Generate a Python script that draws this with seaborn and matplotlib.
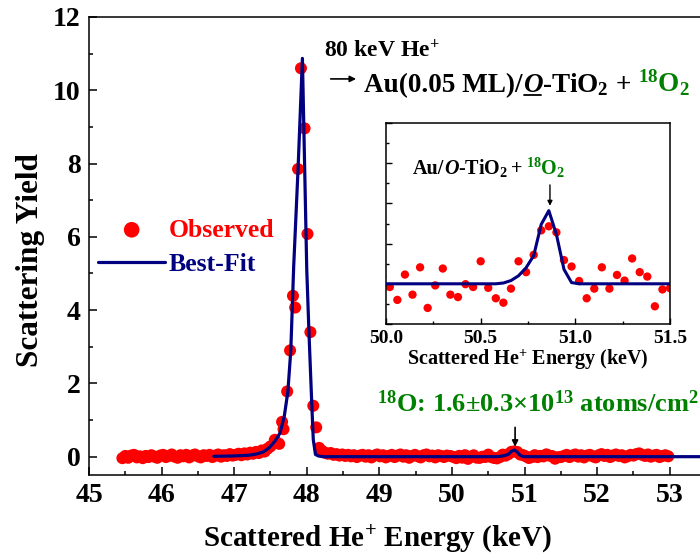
import matplotlib
matplotlib.use("Agg")
import matplotlib.pyplot as plt
import seaborn as sns
import pandas as pd
from matplotlib.lines import Line2D
from matplotlib.ticker import MultipleLocator, FormatStrFormatter

# Observed spectrum in segments
left_energy = [45.46, 45.50, 45.54, 45.58, 45.62, 45.66, 45.70, 45.74, 45.78, 45.82,
               45.86, 45.90, 45.94, 45.98, 46.02, 46.06, 46.10, 46.14, 46.18, 46.22,
               46.26, 46.30, 46.34, 46.38, 46.42, 46.46, 46.50, 46.54, 46.58, 46.62,
               46.66, 46.70, 46.74, 46.78, 46.82, 46.86, 46.90, 46.94, 46.98, 47.02,
               47.06, 47.10, 47.14, 47.18, 47.22, 47.26, 47.30, 47.34, 47.38, 47.42,
               47.46]
left_yield = [-0.04, 0.02, -0.03, 0.03, 0.05, -0.02, 0.01, -0.04, 0.02, -0.01,
              0.04, 0.00, -0.03, 0.03, 0.05, -0.01, 0.02, 0.06, 0.00, -0.03,
              0.04, 0.01, 0.05, -0.02, 0.03, 0.06, 0.01, -0.02, 0.04, 0.02,
              0.05, -0.01, 0.03, 0.06, 0.00, 0.04, 0.02, 0.07, 0.03, 0.05,
              0.08, 0.04, 0.09, 0.06, 0.11, 0.08, 0.13, 0.10, 0.17, 0.14,
              0.22]

peak_energy = [47.50, 47.56, 47.62, 47.66, 47.68, 47.73, 47.77, 47.81, 47.84, 47.88,
               47.92, 47.97, 48.01, 48.05, 48.09, 48.13]
peak_yield = [0.28, 0.46, 0.35, 0.95, 0.75, 1.78, 2.90, 4.39, 4.07, 7.85,
              10.60, 8.96, 6.08, 3.40, 1.39, 0.80]

mid_energy = [48.17, 48.21, 48.25, 48.29, 48.33, 48.37, 48.41, 48.45, 48.49, 48.53,
              48.57, 48.61, 48.65, 48.69, 48.73, 48.77, 48.81, 48.85, 48.89, 48.93,
              48.97, 49.01, 49.05, 49.09, 49.13, 49.17, 49.21, 49.25, 49.29, 49.33,
              49.37, 49.41, 49.45, 49.49, 49.53, 49.57, 49.61, 49.65, 49.69, 49.73,
              49.77, 49.81, 49.85, 49.89, 49.93]
mid_yield = [0.24, 0.16, 0.11, 0.08, 0.10, 0.05, 0.07, 0.03, 0.06, 0.02,
             0.05, 0.01, 0.04, -0.01, 0.03, 0.05, 0.00, 0.04, -0.02, 0.03,
             0.06, 0.01, 0.04, -0.02, 0.02, 0.05, -0.01, 0.03, 0.06, 0.00,
             0.04, -0.03, 0.02, 0.05, 0.01, -0.02, 0.04, 0.06, 0.01, 0.03,
             -0.02, 0.04, 0.02, -0.01, 0.03]

# the part shown in the inset
zoom_energy = [49.98, 50.02, 50.06, 50.10, 50.14, 50.18, 50.22, 50.26, 50.30, 50.34,
               50.38, 50.42, 50.46, 50.50, 50.54, 50.58, 50.62, 50.66, 50.70, 50.74,
               50.78, 50.82, 50.86, 50.90, 50.94, 50.98, 51.02, 51.06, 51.10, 51.14,
               51.18, 51.22, 51.26, 51.30, 51.34, 51.38, 51.42, 51.46, 51.50]
zoom_yield = [0.018, -0.008, -0.040, 0.023, -0.027, 0.041, -0.060, -0.004, 0.038, -0.027,
              -0.033, -0.001, -0.008, 0.056, -0.010, -0.036, -0.047, -0.012, 0.056, 0.029,
              0.072, 0.133, 0.143, 0.128, 0.059, 0.043, 0.007, -0.036, -0.012, 0.041,
              -0.012, 0.022, 0.008, 0.063, 0.029, 0.018, -0.056, -0.014, -0.011]

right_energy = [51.54, 51.58, 51.62, 51.66, 51.70, 51.74, 51.78, 51.82, 51.86, 51.90,
                51.94, 51.98, 52.02, 52.06, 52.10, 52.14, 52.18, 52.22, 52.26, 52.30,
                52.34, 52.38, 52.42, 52.46, 52.50, 52.54, 52.58, 52.62, 52.66, 52.70,
                52.74, 52.78, 52.82, 52.86, 52.90, 52.94, 52.98]
right_yield = [0.02, 0.05, -0.01, 0.03, 0.06, 0.00, 0.04, -0.02, 0.03, 0.05,
               0.01, -0.02, 0.04, 0.07, 0.02, 0.05, -0.01, 0.03, 0.06, 0.02,
               0.04, -0.02, 0.01, 0.05, 0.03, 0.07, 0.09, 0.05, 0.02, 0.06,
               0.00, 0.03, 0.05, -0.01, 0.02, 0.04, 0.01]

# Best fit curve
fit_energy = [46.72, 47.00, 47.20, 47.30, 47.40, 47.48, 47.56, 47.63, 47.69, 47.74,
              47.78, 47.82, 47.88, 47.94, 48.00, 48.03, 48.07, 48.09, 48.12, 48.16,
              48.22, 50.58, 50.62, 50.66, 50.70, 50.74, 50.78, 50.82, 50.86, 50.90,
              50.94, 50.98, 51.02, 53.60]
fit_yield = [0.01, 0.02, 0.04, 0.07, 0.13, 0.24, 0.42, 0.64, 1.10, 1.78,
             2.90, 5.20, 7.85, 10.87, 5.10, 3.40, 1.39, 0.46, 0.06, 0.02,
             0.00, 0.00, 0.002, 0.008, 0.02, 0.04, 0.07, 0.148, 0.182, 0.123,
             0.036, 0.003, 0.00, 0.00]

RED = "#ff0000"
NAVY = "#000080"
GREEN = "#008000"


def chain_text(fig, ax, x, y, pieces, size):
    """Put text pieces one after another on the same baseline."""
    fig.canvas.draw()
    r = fig.canvas.get_renderer()
    W, H = fig.bbox.width, fig.bbox.height
    px, py = ax.transData.transform((x, y))
    for s, color, style, gap, under in pieces:
        px += gap
        t = fig.text(px / W, py / H, s, color=color, fontsize=size,
                     fontweight="bold", fontstyle=style, ha="left", va="baseline")
        bb = t.get_window_extent(r)
        if under:
            fig.add_artist(Line2D([(bb.x0 + 1) / W, (bb.x1 - 1) / W],
                                  [(py - 3) / H, (py - 3) / H],
                                  color=color, lw=1.3))
        px = bb.x1


def main():
    sns.set_theme(style="ticks")
    plt.rcParams["font.family"] = ["Liberation Serif", "DejaVu Serif"]
    plt.rcParams["font.weight"] = "bold"
    plt.rcParams["axes.labelweight"] = "bold"
    plt.rcParams["text.color"] = "black"
    plt.rcParams["axes.labelcolor"] = "black"
    plt.rcParams["axes.edgecolor"] = "black"
    plt.rcParams["xtick.color"] = "black"
    plt.rcParams["ytick.color"] = "black"
    plt.rcParams["mathtext.fontset"] = "custom"
    plt.rcParams["mathtext.rm"] = "Liberation Serif:bold"
    plt.rcParams["mathtext.it"] = "Liberation Serif:italic:bold"
    plt.rcParams["mathtext.bf"] = "Liberation Serif:bold"
    plt.rcParams["axes.linewidth"] = 1.1

    obs = pd.DataFrame({
        "energy": left_energy + peak_energy + mid_energy + zoom_energy + right_energy,
        "yield": left_yield + peak_yield + mid_yield + zoom_yield + right_yield,
    })
    fit = pd.DataFrame({"energy": fit_energy, "yield": fit_yield})
    zoom = pd.DataFrame({"energy": zoom_energy, "yield": zoom_yield})

    fig = plt.figure(figsize=(7, 5.6), dpi=100)
    ax = fig.add_axes([89 / 700, 85 / 560, 617 / 700, 458 / 560])

    sns.scatterplot(data=obs, x="energy", y="yield", ax=ax, color=RED, s=75,
                    edgecolor="none", linewidth=0, label="Observed", zorder=2)
    sns.lineplot(data=fit, x="energy", y="yield", ax=ax, color=NAVY, lw=2.3,
                 label="Best-Fit", estimator=None, sort=False, zorder=3)

    ax.set_xlim(45, 53.5)
    ax.set_ylim(-0.5, 12)
    ax.xaxis.set_major_locator(MultipleLocator(1))
    ax.xaxis.set_minor_locator(MultipleLocator(0.5))
    ax.yaxis.set_major_locator(MultipleLocator(2))
    ax.yaxis.set_minor_locator(MultipleLocator(1))
    ax.tick_params(which="both", direction="in", width=1.1, labelsize=20,
                   top=False, right=False, colors="black")
    ax.tick_params(which="major", length=6, pad=6)
    ax.tick_params(which="minor", length=3)
    ax.set_xlabel("Scattered He$^{+}$ Energy (keV)", fontsize=21)
    ax.set_ylabel("Scattering Yield", fontsize=22.5)
    ax.xaxis.set_label_coords(0.468, -0.105)
    ax.yaxis.set_label_coords(-0.072, 0.47)

    leg = ax.legend(loc="upper left", bbox_to_anchor=(0.015, 0.56), frameon=False,
                    fontsize=18.5, handlelength=2.6, handletextpad=0.15,
                    borderpad=0, borderaxespad=0, labelspacing=0.45,
                    markerscale=1.3)
    for t, c in zip(leg.get_texts(), [RED, NAVY]):
        t.set_color(c)

    # inset
    ax_in = fig.add_axes([386 / 700, (560 - 324) / 560, 284 / 700, 201 / 560])
    sns.scatterplot(data=zoom, x="energy", y="yield", ax=ax_in, color=RED, s=36,
                    edgecolor="none", linewidth=0, legend=False, zorder=2)
    sns.lineplot(data=fit, x="energy", y="yield", ax=ax_in, color=NAVY, lw=2.2,
                 estimator=None, sort=False, legend=False, zorder=3)
    ax_in.set_xlim(50.0, 51.5)
    ax_in.set_ylim(-0.1, 0.4)
    ax_in.xaxis.set_major_locator(MultipleLocator(0.5))
    ax_in.xaxis.set_minor_locator(MultipleLocator(0.25))
    ax_in.xaxis.set_major_formatter(FormatStrFormatter("%.1f"))
    ax_in.yaxis.set_major_locator(MultipleLocator(0.1))
    ax_in.yaxis.set_minor_locator(MultipleLocator(0.05))
    ax_in.tick_params(which="both", direction="in", width=1.0, labelsize=14,
                      top=False, right=False, labelleft=False)
    ax_in.tick_params(which="major", length=4, pad=4)
    ax_in.tick_params(which="minor", length=2.5)
    ax_in.set_xlabel("Scattered He$^{+}$ Energy (keV)", fontsize=14.5, labelpad=1)
    ax_in.set_ylabel("")

    # annotations
    ax.text(48.24, 10.9, "80 keV He$^{+}$", fontsize=17, ha="left", va="baseline")
    ax.annotate("", xy=(48.68, 10.31), xytext=(48.33, 10.31),
                arrowprops=dict(arrowstyle="-|>", lw=1.2, color="black",
                                mutation_scale=9, shrinkA=0, shrinkB=0))
    ax.annotate("", xy=(50.87, 0.27), xytext=(50.87, 0.80),
                arrowprops=dict(arrowstyle="-|>", lw=1.2, color="black",
                                mutation_scale=9, shrinkA=0, shrinkB=0))
    ax.text(48.97, 1.23, "${}^{18}$O: 1.6\u00b10.3\u00d710$^{13}$ atoms/cm$^{2}$",
            fontsize=19, color=GREEN, ha="left", va="baseline")
    ax_in.annotate("", xy=(50.866, 0.194), xytext=(50.866, 0.246),
                   arrowprops=dict(arrowstyle="-|>", lw=1.0, color="black",
                                   mutation_scale=7, shrinkA=0, shrinkB=0))

    chain_text(fig, ax, 48.79, 9.95, [
        ("Au(0.05 ML)/", "black", "normal", 0, False),
        ("O", "black", "italic", 0, True),
        ("-TiO$_{2}$", "black", "normal", 0, False),
        ("+", "black", "normal", 7, False),
        ("${}^{18}$O$_{2}$", GREEN, "normal", 7, False),
    ], 19.5)
    chain_text(fig, ax_in, 50.14, 0.272, [
        ("Au/", "black", "normal", 0, False),
        ("O", "black", "italic", 0, False),
        ("-TiO$_{2}$", "black", "normal", 0, False),
        ("+", "black", "normal", 3, False),
        ("${}^{18}$O$_{2}$", GREEN, "normal", 3, False),
    ], 14.5)

    fig.savefig("out.png", dpi=100)


if __name__ == "__main__":
    main()
